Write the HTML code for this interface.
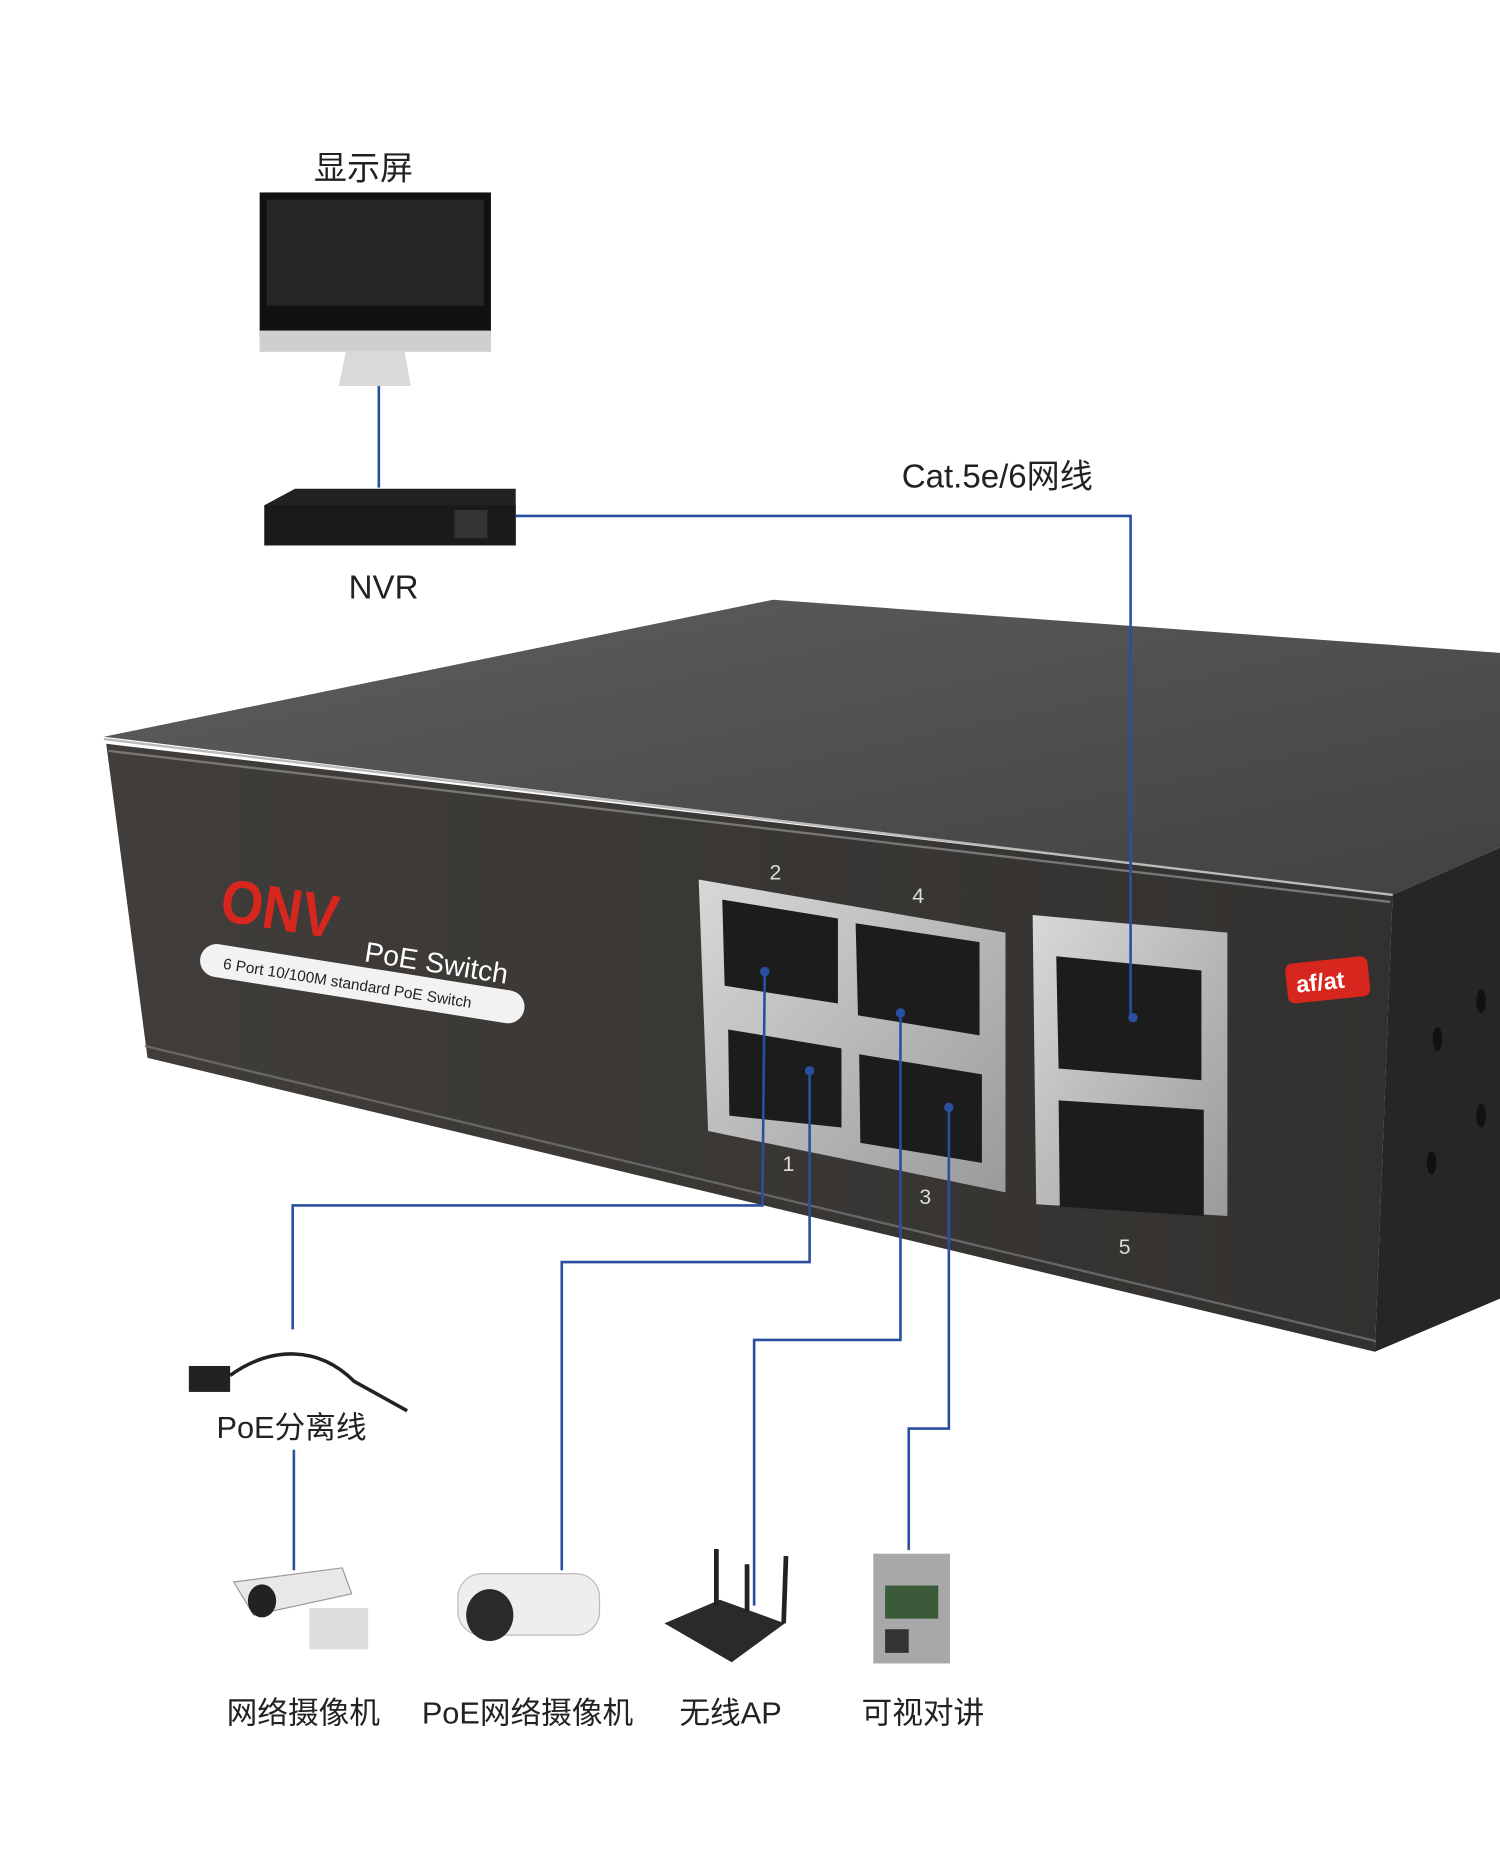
<!DOCTYPE html>
<html><head><meta charset="utf-8"><style>
html,body{margin:0;padding:0;background:#fff;}
svg{display:block;}
text{font-family:"Liberation Sans","Noto Sans CJK SC",sans-serif;}
</style></head><body>
<svg width="1500" height="1850" viewBox="0 0 1271 1567" preserveAspectRatio="none" xmlns="http://www.w3.org/2000/svg">
<defs>
<linearGradient id="top" x1="0" y1="0" x2="1" y2="1"><stop offset="0" stop-color="#5e5e5e"/><stop offset="1" stop-color="#424242"/></linearGradient>
<linearGradient id="front" x1="0" y1="0" x2="1" y2="0"><stop offset="0" stop-color="#403d3a"/><stop offset="1" stop-color="#33312f"/></linearGradient>
<linearGradient id="silver" x1="0" y1="0" x2="1" y2="1"><stop offset="0" stop-color="#d8d8d8"/><stop offset="1" stop-color="#9a9a9a"/></linearGradient>
</defs>
<rect width="1271" height="1567" fill="#fff"/>
<text x="308" y="152" font-size="28" text-anchor="middle" fill="#222">显示屏</text>
<text x="325" y="507" font-size="28" text-anchor="middle" fill="#222">NVR</text>
<text x="845" y="413" font-size="28" text-anchor="middle" fill="#222">Cat.5e/6网线</text>
<rect x="220" y="163" width="196" height="122" fill="#111"/>
<rect x="226" y="169" width="184" height="90" fill="#262626"/>
<rect x="220" y="280" width="196" height="18" fill="#cfcfcf"/>
<polygon points="293,298 343,298 348,327 287,327" fill="#d9d9d9"/>
<polygon points="224,428 250,414 437,414 437,462 224,462" fill="#222"/>
<rect x="224" y="428" width="213" height="34" fill="#1a1a1a"/>
<rect x="385" y="432" width="28" height="24" fill="#333"/>
<polygon points="88,624 655,508 1271,553 1271,718 1180,758" fill="url(#top)"/>
<polygon points="90,630 1180,758 1165,1145 125,896" fill="url(#front)"/>
<polygon points="1180,758 1271,718 1271,1100 1165,1145" fill="#262626"/>
<line x1="88" y1="626" x2="1180" y2="758" stroke="#bbb" stroke-width="2"/>
<line x1="92" y1="636" x2="1178" y2="764" stroke="#777" stroke-width="2"/>
<line x1="123" y1="886" x2="1166" y2="1136" stroke="#666" stroke-width="2"/>
<g fill="#111"><ellipse cx="1218" cy="880" rx="4" ry="10"/><ellipse cx="1255" cy="848" rx="4" ry="10"/><ellipse cx="1255" cy="945" rx="4" ry="10"/><ellipse cx="1213" cy="985" rx="4" ry="10"/></g>
<g transform="rotate(9 190 760)">
<text x="188" y="780" font-size="52" font-weight="bold" fill="#d7261e" textLength="100" lengthAdjust="spacingAndGlyphs">ONV</text>
<text x="315" y="795" font-size="24" fill="#fff">PoE Switch</text>
<rect x="178" y="800" width="278" height="28" rx="14" fill="#f2f2f2"/>
<text x="198" y="820" font-size="13" fill="#222">6 Port 10/100M  standard PoE Switch</text>
</g>
<rect x="1090" y="813" width="70" height="34" rx="6" fill="#d7261e" transform="rotate(-6 1125 830)"/>
<text x="1098" y="838" font-size="20" font-weight="bold" fill="#fff" transform="rotate(-6 1125 830)">af/at</text>
<polygon points="592,745 852,790 852,1010 600,958" fill="url(#silver)"/>
<polygon points="875,775 1040,790 1040,1030 878,1020" fill="url(#silver)"/>
<g fill="#1c1c1c">
<polygon points="612,762 710,778 710,850 614,835"/>
<polygon points="725,782 830,798 830,877 727,860"/>
<polygon points="617,872 713,888 713,955 618,945"/>
<polygon points="728,893 832,910 832,985 729,968"/>
<polygon points="895,810 1018,822 1018,915 897,905"/>
<polygon points="897,932 1020,940 1020,1030 898,1022"/>
</g>
<g fill="#ddd" font-size="18"><text x="652" y="745">2</text><text x="773" y="765">4</text><text x="663" y="992">1</text><text x="779" y="1020">3</text><text x="948" y="1062">5</text></g>
<g fill="none" stroke="#2a4fa0" stroke-width="2.2">
<polyline points="321,327 321,413"/>
<polyline points="437,437 958,437 958,862"/>
<polyline points="648,823 646,1021 248,1021 248,1126"/>
<polyline points="686,907 686,1069 476,1069 476,1330"/>
<polyline points="763,858 763,1135 639,1135 639,1360"/>
<polyline points="804,938 804,1210 770,1210 770,1313"/>
<polyline points="249,1228 249,1330"/>
</g>
<g fill="#2a4fa0"><circle cx="648" cy="823" r="4"/><circle cx="686" cy="907" r="4"/><circle cx="763" cy="858" r="4"/><circle cx="804" cy="938" r="4"/><circle cx="960" cy="862" r="4"/></g>
<rect x="160" y="1157" width="35" height="22" fill="#222"/>
<path d="M195,1165 C230,1140 270,1140 300,1170 L345,1195" fill="none" stroke="#222" stroke-width="3"/>
<text x="247" y="1218" font-size="26" text-anchor="middle" fill="#222">PoE分离线</text>
<polygon points="198,1340 290,1328 298,1350 215,1368" fill="#e8e8e8" stroke="#999"/>
<ellipse cx="222" cy="1356" rx="12" ry="14" fill="#222"/>
<rect x="262" y="1362" width="50" height="35" fill="#ddd"/>
<rect x="388" y="1333" width="120" height="52" rx="20" fill="#eee" stroke="#bbb"/>
<ellipse cx="415" cy="1368" rx="20" ry="22" fill="#2a2a2a"/>
<polygon points="563,1375 610,1355 665,1375 620,1408" fill="#2a2a2a"/>
<g stroke="#222" stroke-width="4"><line x1="607" y1="1312" x2="607" y2="1360"/><line x1="633" y1="1325" x2="633" y2="1365"/><line x1="666" y1="1318" x2="664" y2="1375"/></g>
<rect x="740" y="1316" width="65" height="93" fill="#a8a8a8"/>
<rect x="750" y="1343" width="45" height="28" fill="#3a5a3a"/>
<rect x="750" y="1380" width="20" height="20" fill="#333"/>
<g font-size="26" text-anchor="middle" fill="#222">
<text x="257" y="1460">网络摄像机</text><text x="447" y="1460">PoE网络摄像机</text><text x="619" y="1460">无线AP</text><text x="782" y="1460">可视对讲</text>
</g>
</svg>
</body></html>
